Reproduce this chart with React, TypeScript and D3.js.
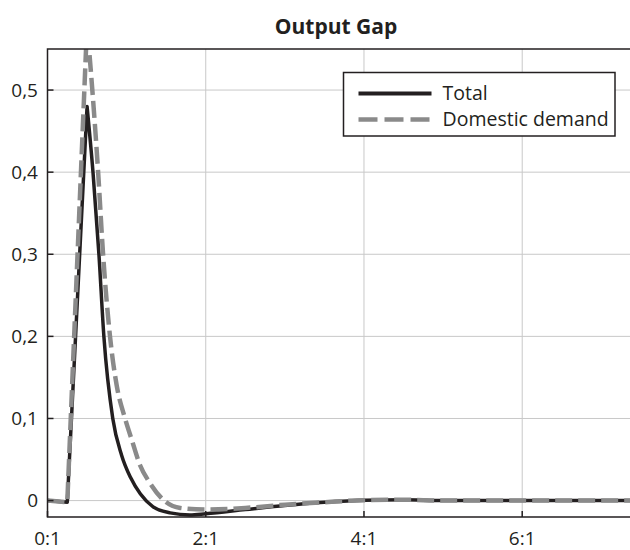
import React, { useEffect, useRef } from 'react';
import * as d3 from 'd3';

// quarters since 0:1
const totalQ = [0, 1, 2, 2.3, 2.6, 2.85, 3.3, 3.75, 4.2, 4.7, 5.34, 6.2, 7.2, 8, 10, 12, 14, 16, 18, 20, 24, 29.5];
const totalV = [0, -0.002, 0.48, 0.4, 0.3, 0.2, 0.1, 0.055, 0.028, 0.008, -0.0076, -0.015, -0.0175, -0.016, -0.011, -0.006, -0.002, 0.0005, 0.001, 0, 0, 0];

const domesticQ = [0, 1, 2, 2.56, 2.81, 3.16, 3.5, 3.92, 4.26, 4.68, 5.19, 5.85, 6.71, 7.97, 10, 12, 14, 16, 18, 20, 24, 29.5];
const domesticV = [0, -0.002, 0.58, 0.4, 0.3, 0.2, 0.14, 0.1, 0.074, 0.043, 0.021, 0.001, -0.009, -0.011, -0.009, -0.005, -0.002, 0.0005, 0.001, 0, 0, 0];

const xTicks = [0, 8, 16, 24];
const xTickLabels = ['0:1', '2:1', '4:1', '6:1'];
const yTicks = [0, 0.1, 0.2, 0.3, 0.4, 0.5];
const seriesNames = ['Total', 'Domestic demand'];

const W = 630;
const H = 550;
const FONT = '"Open Sans", sans-serif';

const App = () => {
  const svgRef = useRef<SVGSVGElement>(null);

  useEffect(() => {
    document.body.style.margin = '0';
    const svg = d3.select(svgRef.current);
    svg.selectAll('*').remove();

    const left = 47.5, right = 631, top = 49, bottom = 517;

    const x = d3.scaleLinear().domain([0, 29.5]).range([left, right]);
    const y = d3.scaleLinear().domain([-0.02, 0.55]).range([bottom, top]);

    svg.append('defs').append('clipPath').attr('id', 'plot-clip')
      .append('rect')
      .attr('x', left).attr('y', top)
      .attr('width', right - left).attr('height', bottom - top);

    // grid
    const grid = svg.append('g').attr('stroke', '#c8c8c8').attr('stroke-width', 1);
    yTicks.forEach(t => {
      grid.append('line')
        .attr('x1', left).attr('x2', right)
        .attr('y1', y(t)).attr('y2', y(t));
    });
    xTicks.slice(1).forEach(t => {
      grid.append('line')
        .attr('x1', x(t)).attr('x2', x(t))
        .attr('y1', top).attr('y2', bottom);
    });

    // straight rise up to the peak, smooth decay after it (one path so dashes stay continuous)
    const straight = d3.line<[number, number]>().x(d => x(d[0])).y(d => y(d[1]));
    const smooth = d3.line<[number, number]>().x(d => x(d[0])).y(d => y(d[1])).curve(d3.curveMonotoneX);
    const pathFor = (qs: number[], vs: number[]) => {
      const pts = qs.map((q, i) => [q, vs[i]] as [number, number]);
      const head = straight(pts.slice(0, 3)) as string;
      const tail = (smooth(pts.slice(2)) as string).replace(/^M[^A-Za-z]*/, '');
      return head + tail;
    };

    const plot = svg.append('g').attr('clip-path', 'url(#plot-clip)');

    plot.append('path')
      .attr('d', pathFor(totalQ, totalV))
      .attr('fill', 'none')
      .attr('stroke', '#231f20')
      .attr('stroke-width', 3.5)
      .attr('stroke-linejoin', 'round');

    plot.append('path')
      .attr('d', pathFor(domesticQ, domesticV))
      .attr('fill', 'none')
      .attr('stroke', '#8a8a8a')
      .attr('stroke-width', 4.5)
      .attr('stroke-dasharray', '17,6')
      .attr('stroke-linejoin', 'round');

    // frame
    svg.append('path')
      .attr('d', `M${right},${top}H${left}V${bottom}H${right}`)
      .attr('fill', 'none')
      .attr('stroke', '#231f20')
      .attr('stroke-width', 1.5);

    // ticks + labels
    const axisG = svg.append('g').attr('fill', '#231f20').style('font-family', FONT).style('font-size', '19px');
    yTicks.forEach(t => {
      axisG.append('line')
        .attr('x1', left).attr('x2', left + 6)
        .attr('y1', y(t)).attr('y2', y(t))
        .attr('stroke', '#231f20').attr('stroke-width', 1.5);
      axisG.append('text')
        .attr('x', 38).attr('y', y(t))
        .attr('dy', '0.35em')
        .attr('text-anchor', 'end')
        .text(t === 0 ? '0' : d3.format('.1f')(t).replace('.', ','));
    });
    xTicks.forEach((t, i) => {
      axisG.append('line')
        .attr('x1', x(t)).attr('x2', x(t))
        .attr('y1', bottom).attr('y2', bottom - 6)
        .attr('stroke', '#231f20').attr('stroke-width', 1.5);
      axisG.append('text')
        .attr('x', x(t)).attr('y', 545)
        .attr('text-anchor', 'middle')
        .text(xTickLabels[i]);
    });

    // title
    svg.append('text')
      .attr('x', 336).attr('y', 34)
      .attr('text-anchor', 'middle')
      .style('font-family', FONT)
      .style('font-size', '21px')
      .style('font-weight', 'bold')
      .attr('fill', '#231f20')
      .text('Output Gap');

    // legend
    const legend = svg.append('g').attr('transform', 'translate(343.5, 72.5)');
    legend.append('rect')
      .attr('width', 271.5).attr('height', 63.5)
      .attr('fill', 'white')
      .attr('stroke', '#231f20')
      .attr('stroke-width', 1.5);
    legend.append('line')
      .attr('x1', 15).attr('x2', 88)
      .attr('y1', 21).attr('y2', 21)
      .attr('stroke', '#231f20').attr('stroke-width', 4);
    legend.append('line')
      .attr('x1', 15).attr('x2', 88)
      .attr('y1', 47).attr('y2', 47)
      .attr('stroke', '#8a8a8a').attr('stroke-width', 4.5)
      .attr('stroke-dasharray', '19,7');
    seriesNames.forEach((name, i) => {
      legend.append('text')
        .attr('x', 99).attr('y', 21 + i * 26)
        .attr('dy', '0.35em')
        .style('font-family', FONT)
        .style('font-size', '19.5px')
        .attr('fill', '#231f20')
        .text(name);
    });
  }, []);

  return <svg ref={svgRef} width={W} height={H} style={{ display: 'block' }}></svg>;
};

export default App;
